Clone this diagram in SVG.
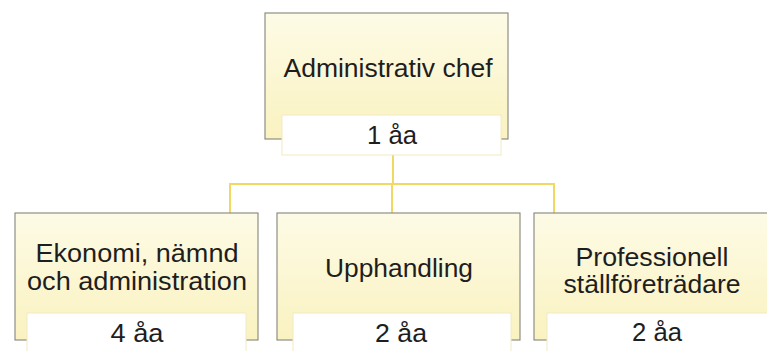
<svg xmlns="http://www.w3.org/2000/svg" width="767" height="351" viewBox="0 0 767 351">
  <defs>
    <linearGradient id="boxfill" x1="0" y1="0" x2="0" y2="1">
      <stop offset="0" stop-color="#fdfbe6"/>
      <stop offset="1" stop-color="#faf2c0"/>
    </linearGradient>
    <style>
      .box { fill: url(#boxfill); stroke: #85857c; stroke-width: 1.1; }
      .lbl { fill: #ffffff; stroke: #f1eac4; stroke-width: 1; }
      .t { font-family: "Liberation Sans", Arial, sans-serif; font-size: 25px; fill: #1e1e1e; text-anchor: middle; }
      .conn { fill: none; stroke: #f0d862; stroke-width: 2; }
    </style>
  </defs>
  <rect width="767" height="351" fill="#ffffff"/>

  <g id="connectors">
    <path class="conn" d="M393 155 V184"/>
    <path class="conn" d="M230 213 V184 H554 V213"/>
    <path class="conn" d="M392 184 V213"/>
  </g>

  <g id="node-admin">
    <rect class="box" x="265" y="13" width="243" height="126"/>
    <rect class="lbl" x="282" y="115" width="219" height="40"/>
    <text class="t" x="388" y="77" textLength="209" lengthAdjust="spacingAndGlyphs">Administrativ chef</text>
    <text class="t" x="392" y="144" textLength="50" lengthAdjust="spacingAndGlyphs">1 åa</text>
  </g>

  <g id="node-ekonomi">
    <rect class="box" x="15" y="213" width="243" height="127"/>
    <rect class="lbl" x="27" y="313" width="219" height="42"/>
    <text class="t" x="137" y="262" textLength="203" lengthAdjust="spacingAndGlyphs">Ekonomi, nämnd</text>
    <text class="t" x="137" y="290" textLength="220" lengthAdjust="spacingAndGlyphs">och administration</text>
    <text class="t" x="137" y="342" textLength="53" lengthAdjust="spacingAndGlyphs">4 åa</text>
  </g>

  <g id="node-upphandling">
    <rect class="box" x="277" y="213" width="243" height="127"/>
    <rect class="lbl" x="293" y="313" width="218" height="42"/>
    <text class="t" x="399" y="277" textLength="148" lengthAdjust="spacingAndGlyphs">Upphandling</text>
    <text class="t" x="401" y="342" textLength="52" lengthAdjust="spacingAndGlyphs">2 åa</text>
  </g>

  <g id="node-professionell">
    <rect class="box" x="534" y="213" width="243" height="127"/>
    <rect class="lbl" x="547" y="313" width="230" height="42"/>
    <text class="t" x="652" y="266" textLength="153" lengthAdjust="spacingAndGlyphs">Professionell</text>
    <text class="t" x="652" y="293" textLength="177" lengthAdjust="spacingAndGlyphs">ställföreträdare</text>
    <text class="t" x="657" y="341" textLength="50" lengthAdjust="spacingAndGlyphs">2 åa</text>
  </g>
</svg>
